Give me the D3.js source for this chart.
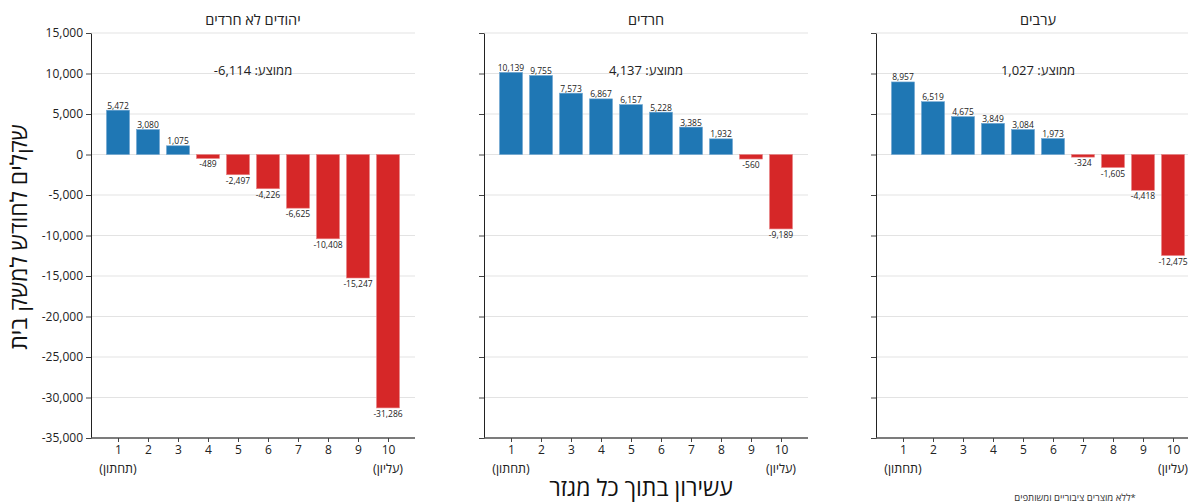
<!DOCTYPE html>
<html><head><meta charset="utf-8">
<script src="https://cdn.jsdelivr.net/npm/d3@7"></script>
<style>body{margin:0;background:#fff}svg{display:block}text{font-family:"Open Sans","DejaVu Sans",sans-serif}</style>
</head><body>
<svg id="chart" width="1188" height="504"></svg>
<script>
const deciles = [1,2,3,4,5,6,7,8,9,10];
const sectors = ["יהודים לא חרדים", "חרדים", "ערבים"];
const valuesJewish = [5472, 3080, 1075, -489, -2497, -4226, -6625, -10408, -15247, -31286];
const valuesHaredi = [10139, 9755, 7573, 6867, 6157, 5228, 3385, 1932, -560, -9189];
const valuesArab = [8957, 6519, 4675, 3849, 3084, 1973, -324, -1605, -4418, -12475];
const means = [-6114, 4137, 1027];
const yTicks = [15000, 10000, 5000, 0, -5000, -10000, -15000, -20000, -25000, -30000, -35000];
const lowLabel = "(תחתון)";
const highLabel = "(עליון)";
const yTitle = "שקלים לחודש למשק בית";
const xTitle = "עשירון בתוך כל מגזר";
const meanPrefix = "ממוצע: ";
const footnote = "*ללא מוצרים ציבוריים ומשותפים";

const seriesList = [valuesJewish, valuesHaredi, valuesArab];
const panelX = [91, 484, 876];
const panelW = 324;
const fmt = d3.format(",");
const numFmt = v => fmt(v).replace("\u2212", "-");

const svg = d3.select("#chart");
const y = d3.scaleLinear().domain([-35000, 15000]).range([438, 33]);
const x = d3.scalePoint().domain(deciles).range([0, panelW]).padding(0.9);
const barW = 23;

seriesList.forEach((vals, i) => {
  const g = svg.append("g").attr("transform", `translate(${panelX[i]},0)`);
  g.append("g").selectAll("line").data(yTicks).join("line")
    .attr("x1", 0).attr("x2", panelW)
    .attr("y1", d => y(d)).attr("y2", d => y(d))
    .attr("stroke", "#e3e3e3").attr("stroke-width", 1);
  const data = deciles.map((d, k) => ({d, v: vals[k]}));
  g.append("g").selectAll("rect").data(data).join("rect")
    .attr("x", d => x(d.d) - barW / 2)
    .attr("width", barW)
    .attr("y", d => y(Math.max(0, d.v)))
    .attr("height", d => Math.abs(y(d.v) - y(0)))
    .attr("fill", d => d.v >= 0 ? "#1f77b4" : "#d62728")
    .attr("stroke", d => d.v >= 0 ? "#6fa6d1" : "#e88485")
    .attr("stroke-width", 0.6);
  g.append("g").selectAll("text").data(data).join("text")
    .attr("x", d => x(d.d))
    .attr("y", d => d.v >= 0 ? y(d.v) - 1.5 : y(d.v) + 9)
    .attr("text-anchor", "middle")
    .attr("font-size", 8.5).attr("fill", "#222")
    .text(d => numFmt(d.v));
  const ya = d3.axisLeft(y).tickValues(yTicks).tickSize(5).tickSizeOuter(0)
    .tickFormat(i === 0 ? numFmt : () => "");
  const yg = g.append("g").call(ya);
  yg.select(".domain").attr("stroke", "#222");
  yg.selectAll(".tick line").attr("stroke", "#444");
  yg.selectAll(".tick text").attr("font-size", 12).attr("fill", "#222").attr("x", -8);
  const xa = d3.axisBottom(x).tickSize(4).tickSizeOuter(0);
  const xg = g.append("g").attr("transform", "translate(0,438)").call(xa);
  xg.select(".domain").attr("stroke", "#555").attr("stroke-width", 1.5)
    .attr("d", `M0,0H${panelW}`);
  xg.selectAll(".tick line").attr("stroke", "#444");
  xg.selectAll(".tick text").attr("font-size", 12).attr("fill", "#222").attr("y", 7);
  g.append("text").attr("x", x(1)).attr("y", 473).attr("text-anchor", "middle")
    .attr("direction", "rtl").attr("font-size", 12.5).attr("fill", "#222").text(lowLabel);
  g.append("text").attr("x", x(10)).attr("y", 473).attr("text-anchor", "middle")
    .attr("direction", "rtl").attr("font-size", 12.5).attr("fill", "#222").text(highLabel);
  g.append("text").attr("x", panelW / 2).attr("y", 25).attr("text-anchor", "middle")
    .attr("direction", "rtl").attr("font-size", 14.5).attr("fill", "#222").text(sectors[i]);
  g.append("text").attr("x", panelW / 2).attr("y", 75).attr("text-anchor", "middle")
    .attr("direction", "rtl").attr("font-size", 13).attr("fill", "#222")
    .text(meanPrefix + "\u200E" + numFmt(means[i]));
});

svg.append("text").attr("transform", "translate(27,237) rotate(-90)")
  .attr("text-anchor", "middle").attr("direction", "rtl")
  .attr("font-size", 23).attr("fill", "#111").text(yTitle);
svg.append("text").attr("x", 641).attr("y", 496)
  .attr("text-anchor", "middle").attr("direction", "rtl")
  .attr("font-size", 23).attr("fill", "#111").text(xTitle);
svg.append("text").attr("x", 1075).attr("y", 501)
  .attr("text-anchor", "middle").attr("direction", "rtl")
  .attr("font-size", 9.5).attr("fill", "#333").text(footnote);
</script>
</body></html>
